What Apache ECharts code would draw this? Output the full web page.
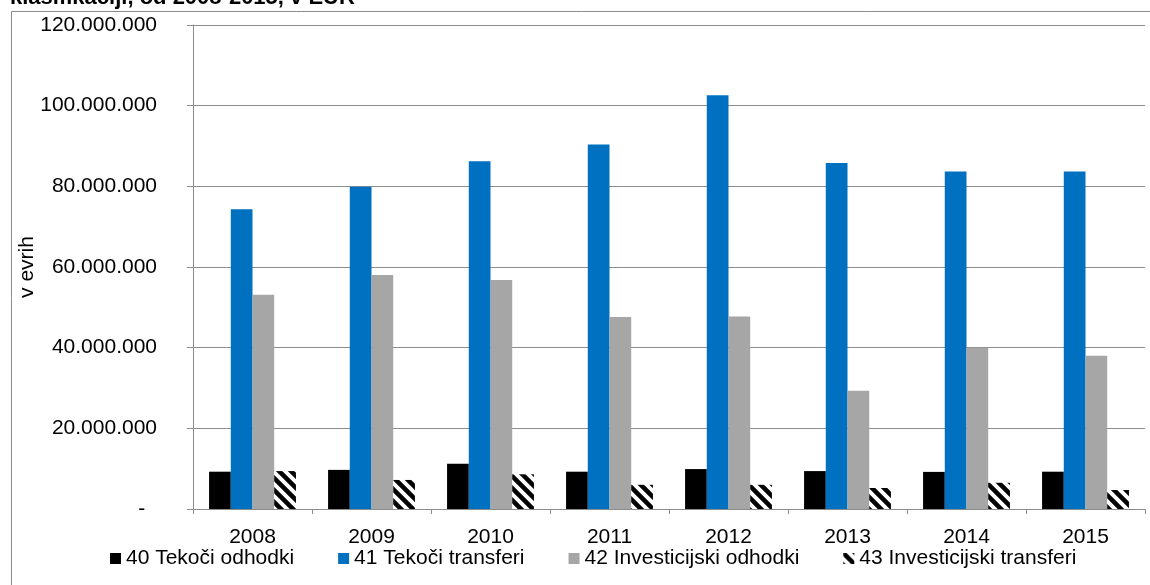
<!DOCTYPE html>
<html lang="sl">
<head>
    <meta charset="UTF-8">
    <title>Odhodki po ekonomski klasifikaciji</title>
    <script src="https://cdn.jsdelivr.net/npm/echarts@6/dist/echarts.min.js"></script>
    <style>
        html, body { margin: 0; padding: 0; background: #fff; }
        #main { width: 1150px; height: 585px; }
    </style>
</head>
<body>
    <div id="main"></div>

    <script type="text/javascript">
        // podatki
        var years = ['2008', '2009', '2010', '2011', '2012', '2013', '2014', '2015'];
        var names = ['40 Tekoči odhodki', '41 Tekoči transferi', '42 Investicijski odhodki', '43 Investicijski transferi'];
        var tekociOdhodki = [9250000, 9700000, 11200000, 9250000, 9900000, 9400000, 9200000, 9250000];
        var tekociTransferi = [74300000, 79900000, 86200000, 90400000, 102600000, 85800000, 83700000, 83700000];
        var investOdhodki = [53100000, 58000000, 56800000, 47600000, 47700000, 29300000, 40000000, 38000000];
        var investTransferi = [9400000, 7200000, 8600000, 6000000, 6000000, 5200000, 6500000, 4700000];
        var yTicks = [0, 20000000, 40000000, 60000000, 80000000, 100000000, 120000000];

        // crtkan vzorec za 43
        function hatch() {
            var s = 12;
            var c = document.createElement('canvas');
            c.width = s;
            c.height = s;
            var ctx = c.getContext('2d');
            ctx.fillStyle = '#fff';
            ctx.fillRect(0, 0, s, s);
            ctx.strokeStyle = '#000';
            ctx.lineWidth = 4.5;
            ctx.beginPath();
            ctx.moveTo(-s, -s); ctx.lineTo(2 * s, 2 * s);
            ctx.moveTo(-s, 0); ctx.lineTo(s, 2 * s);
            ctx.moveTo(0, -s); ctx.lineTo(2 * s, s);
            ctx.stroke();
            return { image: c, repeat: 'repeat' };
        }

        function fmt(v) {
            if (v === 0) return '-  ';
            return String(v).replace(/\B(?=(\d{3})+(?!\d))/g, '.');
        }

        var font = 'Liberation Sans, Arial, sans-serif';
        var myChart = echarts.init(document.getElementById('main'));
        var option = {
            backgroundColor: '#fff',
            animation: false,
            textStyle: { fontFamily: font },
            graphic: [
                {
                    type: 'text', x: 10, y: 9,
                    style: { text: 'klasifikaciji, od 2008-2015, v EUR', font: 'bold 22px ' + font, fill: '#000', verticalAlign: 'bottom' }
                },
                {
                    type: 'rect', shape: { x: 11.5, y: 11.5, width: 1200, height: 700 },
                    style: { fill: 'none', stroke: '#8c8c8c', lineWidth: 1 }, silent: true
                }
            ],
            legend: {
                left: 105, top: 543,
                icon: 'rect', itemWidth: 11, itemHeight: 11, itemGap: 44,
                textStyle: { fontSize: 21, color: '#000', fontFamily: font },
                data: names
            },
            grid: { left: 193, right: 5, top: 25, bottom: 76 },
            xAxis: {
                type: 'category',
                data: years,
                axisLine: { lineStyle: { color: '#8c8c8c' } },
                axisTick: { show: true, length: 5, lineStyle: { color: '#8c8c8c' } },
                axisLabel: { color: '#000', fontSize: 21, margin: 18, fontFamily: font }
            },
            yAxis: {
                type: 'value',
                min: yTicks[0], max: yTicks[yTicks.length - 1], interval: yTicks[1] - yTicks[0],
                name: 'v evrih', nameLocation: 'middle', nameGap: 155, nameRotate: 90,
                nameMoveOverlap: false,
                nameTextStyle: { fontSize: 21, color: '#000', fontFamily: font },
                axisLine: { show: true, lineStyle: { color: '#8c8c8c' } },
                axisTick: { show: true, length: 6, lineStyle: { color: '#8c8c8c' } },
                splitLine: { lineStyle: { color: '#8c8c8c' } },
                axisLabel: { color: '#000', fontSize: 21, margin: 36, formatter: fmt, fontFamily: font }
            },
            series: [
                { name: names[0], type: 'bar', data: tekociOdhodki, itemStyle: { color: '#000' }, barGap: '0%', barCategoryGap: '27%' },
                { name: names[1], type: 'bar', data: tekociTransferi, itemStyle: { color: '#0070C0' } },
                { name: names[2], type: 'bar', data: investOdhodki, itemStyle: { color: '#A6A6A6' } },
                { name: names[3], type: 'bar', data: investTransferi, itemStyle: { color: hatch() } }
            ]
        };
        myChart.setOption(option);
    </script>
</body>
</html>
